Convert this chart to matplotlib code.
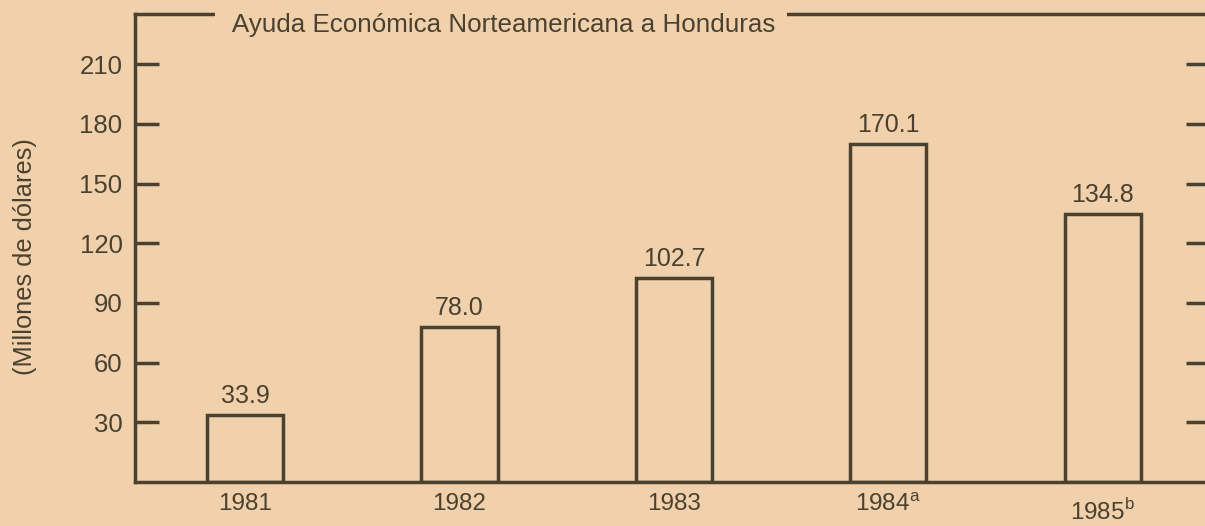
import matplotlib
matplotlib.use("Agg")
import matplotlib.pyplot as plt

# data
years = ["1981", "1982", "1983", "1984$^{\\mathrm{a}}$", "1985$^{\\mathrm{b}}$"]
aid = [33.9, 78.0, 102.7, 170.1, 134.8]
value_labels = ["33.9", "78.0", "102.7", "170.1", "134.8"]
yticks = [30, 60, 90, 120, 150, 180, 210]

title = "Ayuda Económica Norteamericana a Honduras"
ylabel = "(Millones de dólares)"

bg = "#F1D1AC"
ink = "#4A4130"

plt.rcParams["font.family"] = ["Liberation Sans", "DejaVu Sans"]
plt.rcParams["mathtext.fontset"] = "custom"
plt.rcParams["mathtext.rm"] = "Liberation Sans"

W, H = 1205, 526
fig = plt.figure(figsize=(W / 100, H / 100), dpi=100)
fig.patch.set_facecolor(bg)

# axes box in pixels: left spine 135, bottom 482, top 14, right spine just off the page
ax = fig.add_axes([135 / W, 1 - 482 / H, 1075 / W, 468 / H])
ax.set_facecolor(bg)

x = list(range(len(aid)))
bars = ax.bar(x, aid, width=0.355, facecolor="none", edgecolor=ink,
              linewidth=2.5, zorder=3)

for b, lab in zip(bars, value_labels):
    ax.annotate(lab, (b.get_x() + b.get_width() / 2, b.get_height()),
                xytext=(0, 5), textcoords="offset points",
                ha="center", va="bottom", fontsize=18, color=ink)

ax.set_xlim(-0.513, 4.5)
ax.set_ylim(0, 235.2)

for s in ax.spines.values():
    s.set_color(ink)
    s.set_linewidth(2.5)

ax.set_yticks(yticks)
ax.tick_params(axis="y", which="both", direction="in", length=17, width=2.5,
               color=ink, labelcolor=ink, labelsize=18.5, pad=9,
               left=True, right=True)

ax.set_xticks(x)
ax.set_xticklabels(years)
ax.tick_params(axis="x", length=0, labelcolor=ink, labelsize=17.5, pad=8)
# the last year label sits a bit lower in the original
ax.get_xticklabels()[-1].set_y(-0.012)

# title interrupts the top frame line
fig.text(226 / W, 1 - 25 / H, " " + title, ha="left", va="center", fontsize=18.7,
         color=ink, bbox=dict(facecolor=bg, edgecolor="none", pad=8))

fig.text(25 / W, 1 - 257 / H, ylabel, rotation=90, ha="center", va="center",
         fontsize=18.3, color=ink)

fig.savefig("out.png", dpi=100, facecolor=bg)
